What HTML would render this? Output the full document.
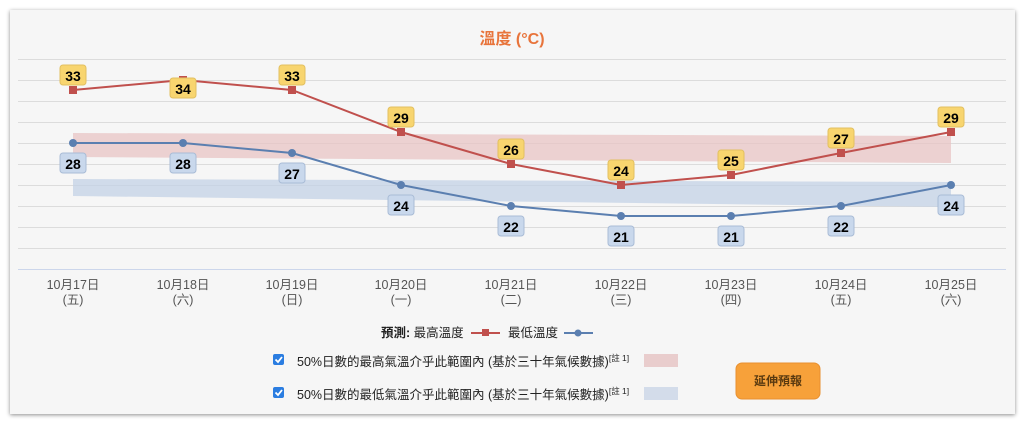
<!DOCTYPE html>
<html><head><meta charset="utf-8"><style>
body{margin:0;width:1024px;height:425px;background:#fff;overflow:hidden;font-family:"Liberation Sans","Noto Sans CJK TC",sans-serif;}
.card{position:absolute;left:10px;top:10px;width:1005px;height:404px;background:#f6f6f6;box-shadow:0 1px 4px rgba(0,0,0,.45);}
</style></head><body>
<div class="card"></div>
<svg width="1024" height="425" style="position:absolute;left:0;top:0" font-family="Liberation Sans, Noto Sans CJK TC, sans-serif">
<text x="512" y="44" text-anchor="middle" font-size="16" font-weight="bold" fill="#e8743b">溫度 (°C)</text>
<g stroke="#dcdcdc" stroke-width="1">
<line x1="18" x2="1006" y1="59.5" y2="59.5"/><line x1="18" x2="1006" y1="80.5" y2="80.5"/>
<line x1="18" x2="1006" y1="101.5" y2="101.5"/><line x1="18" x2="1006" y1="122.5" y2="122.5"/>
<line x1="18" x2="1006" y1="143.5" y2="143.5"/><line x1="18" x2="1006" y1="164.5" y2="164.5"/>
<line x1="18" x2="1006" y1="185.5" y2="185.5"/><line x1="18" x2="1006" y1="206.5" y2="206.5"/>
<line x1="18" x2="1006" y1="227.5" y2="227.5"/><line x1="18" x2="1006" y1="248.5" y2="248.5"/>
</g>
<line x1="18" x2="1006" y1="269.5" y2="269.5" stroke="#ccd6eb"/>
<polygon points="73,133 951,136 951,163 73,157" fill="#e8c4c4" opacity="0.75"/>
<polygon points="73,179 951,182 951,207 73,196" fill="#c3d1e6" opacity="0.75"/>
<polyline points="73,90 183,80 292,90 401,132 511,164 621,185 731,175 841,153 951,132" fill="none" stroke="#c0504d" stroke-width="2"/>
<g fill="#c0504d">
<rect x="69" y="86" width="8" height="8"/><rect x="179" y="76" width="8" height="8"/><rect x="288" y="86" width="8" height="8"/>
<rect x="397" y="128" width="8" height="8"/><rect x="507" y="160" width="8" height="8"/><rect x="617" y="181" width="8" height="8"/>
<rect x="727" y="171" width="8" height="8"/><rect x="837" y="149" width="8" height="8"/><rect x="947" y="128" width="8" height="8"/>
</g>
<polyline points="73,143 183,143 292,153 401,185 511,206 621,216 731,216 841,206 951,185" fill="none" stroke="#5b7fb0" stroke-width="2"/>
<g fill="#5b7fb0">
<circle cx="73" cy="143" r="4"/><circle cx="183" cy="143" r="4"/><circle cx="292" cy="153" r="4"/><circle cx="401" cy="185" r="4"/>
<circle cx="511" cy="206" r="4"/><circle cx="621" cy="216" r="4"/><circle cx="731" cy="216" r="4"/><circle cx="841" cy="206" r="4"/><circle cx="951" cy="185" r="4"/>
</g>
<g font-size="14" font-weight="bold" text-anchor="middle" fill="#000">
<g fill="#f8d56f" stroke="#e2c060">
<rect x="60" y="65" width="26" height="20" rx="3"/><rect x="170" y="78" width="26" height="20" rx="3"/><rect x="279" y="65" width="26" height="20" rx="3"/>
<rect x="388" y="107" width="26" height="20" rx="3"/><rect x="498" y="139" width="26" height="20" rx="3"/><rect x="608" y="160" width="26" height="20" rx="3"/>
<rect x="718" y="150" width="26" height="20" rx="3"/><rect x="828" y="128" width="26" height="20" rx="3"/><rect x="938" y="107" width="26" height="20" rx="3"/>
</g>
<text x="73" y="81">33</text><text x="183" y="94">34</text><text x="292" y="81">33</text><text x="401" y="123">29</text><text x="511" y="155">26</text>
<text x="621" y="176">24</text><text x="731" y="166">25</text><text x="841" y="144">27</text><text x="951" y="123">29</text>
<g fill="#c9d8ec" stroke="#a9bcd6">
<rect x="60" y="153" width="26" height="20" rx="3"/><rect x="170" y="153" width="26" height="20" rx="3"/><rect x="279" y="163" width="26" height="20" rx="3"/>
<rect x="388" y="195" width="26" height="20" rx="3"/><rect x="498" y="216" width="26" height="20" rx="3"/><rect x="608" y="226" width="26" height="20" rx="3"/>
<rect x="718" y="226" width="26" height="20" rx="3"/><rect x="828" y="216" width="26" height="20" rx="3"/><rect x="938" y="195" width="26" height="20" rx="3"/>
</g>
<text x="73" y="169">28</text><text x="183" y="169">28</text><text x="292" y="179">27</text><text x="401" y="211">24</text><text x="511" y="232">22</text>
<text x="621" y="242">21</text><text x="731" y="242">21</text><text x="841" y="232">22</text><text x="951" y="211">24</text>
</g>
<g font-size="12.5" fill="#555" text-anchor="middle">
<text x="73" y="289">10月17日</text><text x="73" y="304">(五)</text>
<text x="183" y="289">10月18日</text><text x="183" y="304">(六)</text>
<text x="292" y="289">10月19日</text><text x="292" y="304">(日)</text>
<text x="401" y="289">10月20日</text><text x="401" y="304">(一)</text>
<text x="511" y="289">10月21日</text><text x="511" y="304">(二)</text>
<text x="621" y="289">10月22日</text><text x="621" y="304">(三)</text>
<text x="731" y="289">10月23日</text><text x="731" y="304">(四)</text>
<text x="841" y="289">10月24日</text><text x="841" y="304">(五)</text>
<text x="951" y="289">10月25日</text><text x="951" y="304">(六)</text>
</g>
<text x="381" y="337" font-size="12.5" fill="#222"><tspan font-weight="bold">預測:</tspan> 最高溫度</text>
<line x1="471" x2="500" y1="333" y2="333" stroke="#c0504d" stroke-width="2"/><rect x="482" y="329" width="7" height="7" fill="#c0504d"/>
<text x="508" y="337" font-size="12.5" fill="#222">最低溫度</text>
<line x1="564" x2="593" y1="333" y2="333" stroke="#5b7fb0" stroke-width="2"/><circle cx="578" cy="333" r="3.5" fill="#5b7fb0"/>
<rect x="273" y="354" width="11" height="11" rx="2" fill="#2b7de1"/><path d="M275.5 359.5l2.5 2.5 4-5" stroke="#fff" stroke-width="1.8" fill="none"/>
<rect x="273" y="387" width="11" height="11" rx="2" fill="#2b7de1"/><path d="M275.5 392.5l2.5 2.5 4-5" stroke="#fff" stroke-width="1.8" fill="none"/>
<text x="297" y="366" font-size="12.5" fill="#222" xml:space="preserve">50%日數的最高氣溫介乎此範圍內 (基於三十年氣候數據)<tspan font-size="8.5" dy="-5">[註 1]</tspan></text>
<text x="297" y="399" font-size="12.5" fill="#222" xml:space="preserve">50%日數的最低氣溫介乎此範圍內 (基於三十年氣候數據)<tspan font-size="8.5" dy="-5">[註 1]</tspan></text>
<rect x="644" y="354" width="34" height="13" fill="#e9cdcd"/>
<rect x="644" y="387" width="34" height="13" fill="#d3dcea"/>
<rect x="736" y="363" width="84" height="36" rx="6" fill="#f7a13a" stroke="#e89030"/>
<text x="778" y="385" font-size="12" font-weight="bold" fill="#5a3a10" text-anchor="middle">延伸預報</text>
</svg>
</body></html>
